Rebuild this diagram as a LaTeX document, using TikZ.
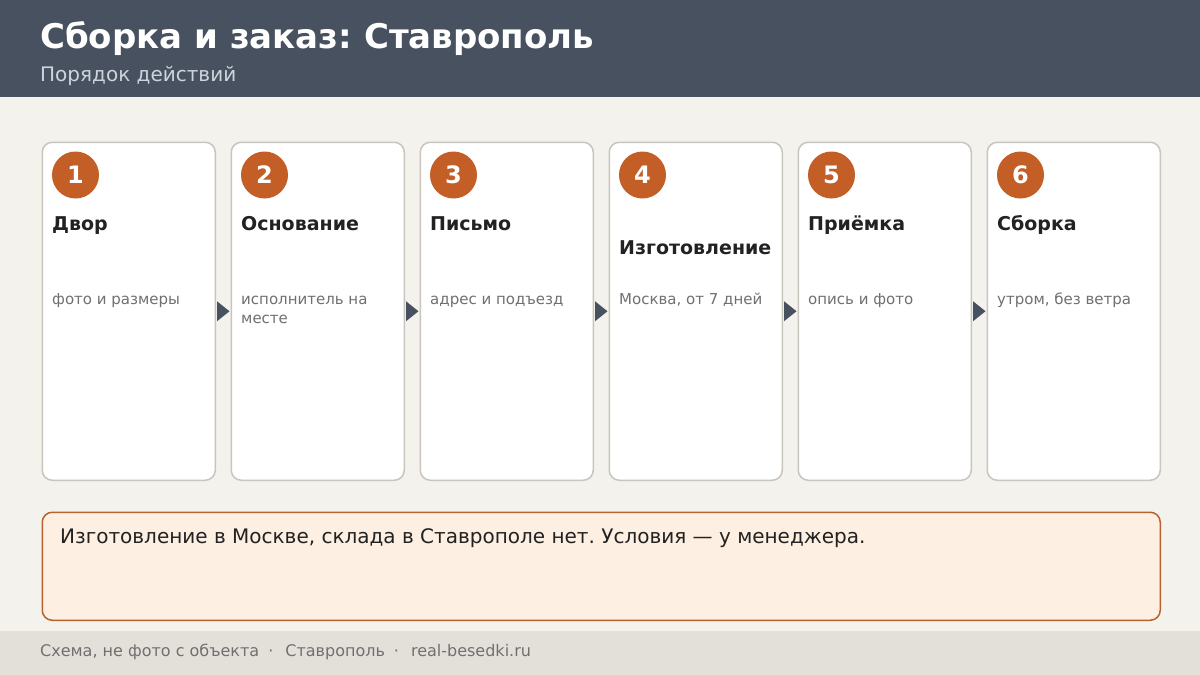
\documentclass[tikz,border=0pt]{standalone}
\usepackage{fontspec}
\setmainfont{DejaVu Sans}
\usetikzlibrary{calc}
\frenchspacing
\definecolor{hdr}{HTML}{475160}
\definecolor{bgc}{HTML}{F4F2ED}
\definecolor{cardline}{HTML}{C9C5BD}
\definecolor{accent}{HTML}{C35E27}
\definecolor{ink}{HTML}{222222}
\definecolor{muted}{HTML}{707070}
\definecolor{notefill}{HTML}{FDEFE1}
\definecolor{noteline}{HTML}{B8622D}
\definecolor{footbg}{HTML}{E3E0DA}
\definecolor{subc}{HTML}{CDD4DC}
\tikzset{
  card/.style={draw=cardline, line width=1.5pt, fill=white, rounded corners=10pt,
    minimum width=173pt, minimum height=338pt, inner sep=0pt},
  badge/.style={circle, fill=accent, minimum size=47pt, inner sep=0pt,
    text=white, font=\fontsize{24}{24}\selectfont\bfseries},
  ctitle/.style={anchor=base west, inner sep=0pt, text=ink, font=\fontsize{19}{19}\selectfont\bfseries},
  cdesc/.style={anchor=base west, inner sep=0pt, text=muted, font=\fontsize{15}{15}\selectfont},
  flow/.style={fill=hdr, draw=none},
}
\begin{document}
\begin{tikzpicture}[x=1pt,y=-1pt]
\useasboundingbox (0,0) rectangle (1200,675);
\fill[bgc] (0,0) rectangle (1200,675);
\fill[hdr] (0,0) rectangle (1200,97);
\fill[footbg] (0,631) rectangle (1200,675);
\node[anchor=base west, inner sep=0pt, text=white, font=\fontsize{34}{34}\selectfont\bfseries] (title) at (40,48) {Сборка и заказ: Ставрополь};
\node[anchor=base west, inner sep=0pt, text=subc, font=\fontsize{20}{20}\selectfont] (sub) at (40,81) {Порядок действий};
% cards
\foreach \i/\x in {1/41,2/230,3/419,4/608,5/797,6/986}{
  \node[card, anchor=north west] (c\i) at (\x+0.5,141.5) {};
  \node[badge] (b\i) at (\x+34.5,175) {\i};
}
\node[ctitle] (t1) at (52,230) {Двор};
\node[ctitle] (t2) at (241,230) {Основание};
\node[ctitle] (t3) at (430,230) {Письмо};
\node[ctitle] (t4) at (619,254) {Изготовление};
\node[ctitle] (t5) at (808,230) {Приёмка};
\node[ctitle] (t6) at (997,230) {Сборка};
\node[cdesc] (d1) at (52,304) {фото и размеры};
\node[cdesc] (d2) at (241,304) {исполнитель на};
\node[cdesc] (d2b) at (241,323) {месте};
\node[cdesc] (d3) at (430,304) {адрес и подъезд};
\node[cdesc] (d4) at (619,304) {Москва, от 7 дней};
\node[cdesc] (d5) at (808,304) {опись и фото};
\node[cdesc] (d6) at (997,304) {утром, без ветра};
% flow arrows
\foreach \a/\b in {1/2,2/3,3/4,4/5,5/6}{
  \fill[flow] ($(c\a.east)+(1,-10)$) -- ($(c\b.west)+(-1,0)$) -- ($(c\a.east)+(1,10)$) -- cycle;
}
% note
\node[draw=noteline, line width=1.5pt, fill=notefill, rounded corners=10pt, anchor=north west,
  minimum width=1118pt, minimum height=108pt, inner sep=0pt] (note) at (41.5,511.5) {};
\node[anchor=base west, inner sep=0pt, text=ink, font=\fontsize{20}{20}\selectfont] (notetext) at (60,543) {Изготовление в Москве, склада в Ставрополе нет. Условия — у менеджера.};
\node[anchor=base west, inner sep=0pt, text=muted, font=\fontsize{16}{16}\selectfont] (foot) at (40,656) {Схема, не фото с объекта\hspace{9pt}·\hspace{12pt}Ставрополь\hspace{9pt}·\hspace{12pt}real-besedki.ru};
\end{tikzpicture}
\end{document}
